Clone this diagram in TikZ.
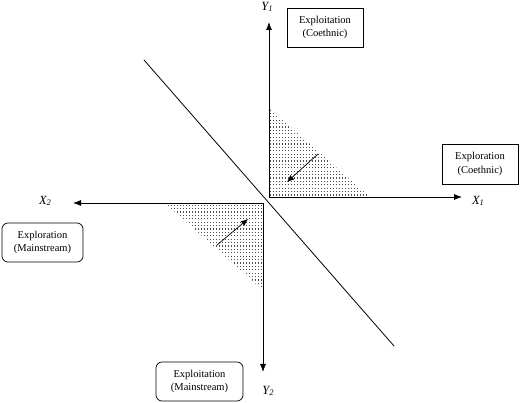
\documentclass[tikz,border=0pt]{standalone}
\usepackage{fontspec}
\setmainfont{Liberation Serif}
\usetikzlibrary{arrows.meta,patterns}
\pgfdeclarepatternformonly{griddots}{\pgfqpoint{0pt}{0pt}}{\pgfqpoint{1.2pt}{1.2pt}}{\pgfqpoint{3pt}{3.4pt}}{%
  \pgfpathrectangle{\pgfqpoint{0pt}{0pt}}{\pgfqpoint{1.1pt}{1.1pt}}\pgfusepath{fill}}
\begin{document}
\begin{tikzpicture}[x=1pt,y=-1pt,
  axis/.style={line width=0.8pt,-{Latex[length=8pt,width=6pt]}},
  smallarrow/.style={line width=0.7pt,-{Latex[length=7pt,width=6pt]}},
  sharpbox/.style={draw,line width=0.7pt,minimum width=76pt,minimum height=39pt,align=center,font=\fontsize{10.5}{13.5}\selectfont,inner sep=1pt},
  roundbox/.style={sharpbox,rounded corners=6pt},
  axlabel/.style={font=\fontsize{12.5}{14}\selectfont\itshape,inner sep=0pt},
  shade/.style={pattern=griddots,pattern color=black!70}
]
\useasboundingbox (0,0) rectangle (520,403);
% coordinates
\coordinate (O1) at (269,197);
\coordinate (O2) at (263,203);
\coordinate (Y1t) at (269,22);
\coordinate (X1t) at (462,197);
\coordinate (X2t) at (73,203);
\coordinate (Y2t) at (263,372);
\coordinate (T1a) at (269,108);
\coordinate (T1b) at (370,197);
\coordinate (T2a) at (165,203);
\coordinate (T2b) at (263,290);
\coordinate (A1s) at (318,154);
\coordinate (A1e) at (287,182);
\coordinate (A2s) at (217,245);
\coordinate (A2e) at (248,219);
\coordinate (Ds) at (144,60);
\coordinate (De) at (394,346);
% shaded triangles
\fill[shade] (T1a) -- (O1) -- (T1b) -- cycle;
\fill[shade] (T2a) -- (O2) -- (T2b) -- cycle;
% diagonal
\draw[line width=0.8pt] (Ds) -- (De);
% axes
\draw[axis] (O1) -- (Y1t);
\draw[axis] (O1) -- (X1t);
\draw[axis] (O2) -- (X2t);
\draw[axis] (O2) -- (Y2t);
% small arrows
\draw[smallarrow] (A1s) -- (A1e);
\draw[smallarrow] (A2s) -- (A2e);
% labels
\node[axlabel] (lY1) at (267,7) {Y\raisebox{-1.5pt}{\fontsize{8.5}{9}\selectfont 1}};
\node[axlabel] (lX1) at (478,201) {X\raisebox{-1.5pt}{\fontsize{8.5}{9}\selectfont 1}};
\node[axlabel] (lX2) at (45,201) {X\raisebox{-1.5pt}{\fontsize{8.5}{9}\selectfont 2}};
\node[axlabel] (lY2) at (268,391) {Y\raisebox{-1.5pt}{\fontsize{8.5}{9}\selectfont 2}};
% boxes
\node[sharpbox] (eic) at (325,27.5) {Exploitation\\(Coethnic)};
\node[sharpbox,minimum height=40pt] (erc) at (480,164) {Exploration\\(Coethnic)};
\node[roundbox,minimum width=81pt] (erm) at (42.5,242.5) {Exploration\\(Mainstream)};
\node[roundbox,minimum width=87pt] (eim) at (199.5,381.5) {Exploitation\\(Mainstream)};
\end{tikzpicture}
\end{document}
